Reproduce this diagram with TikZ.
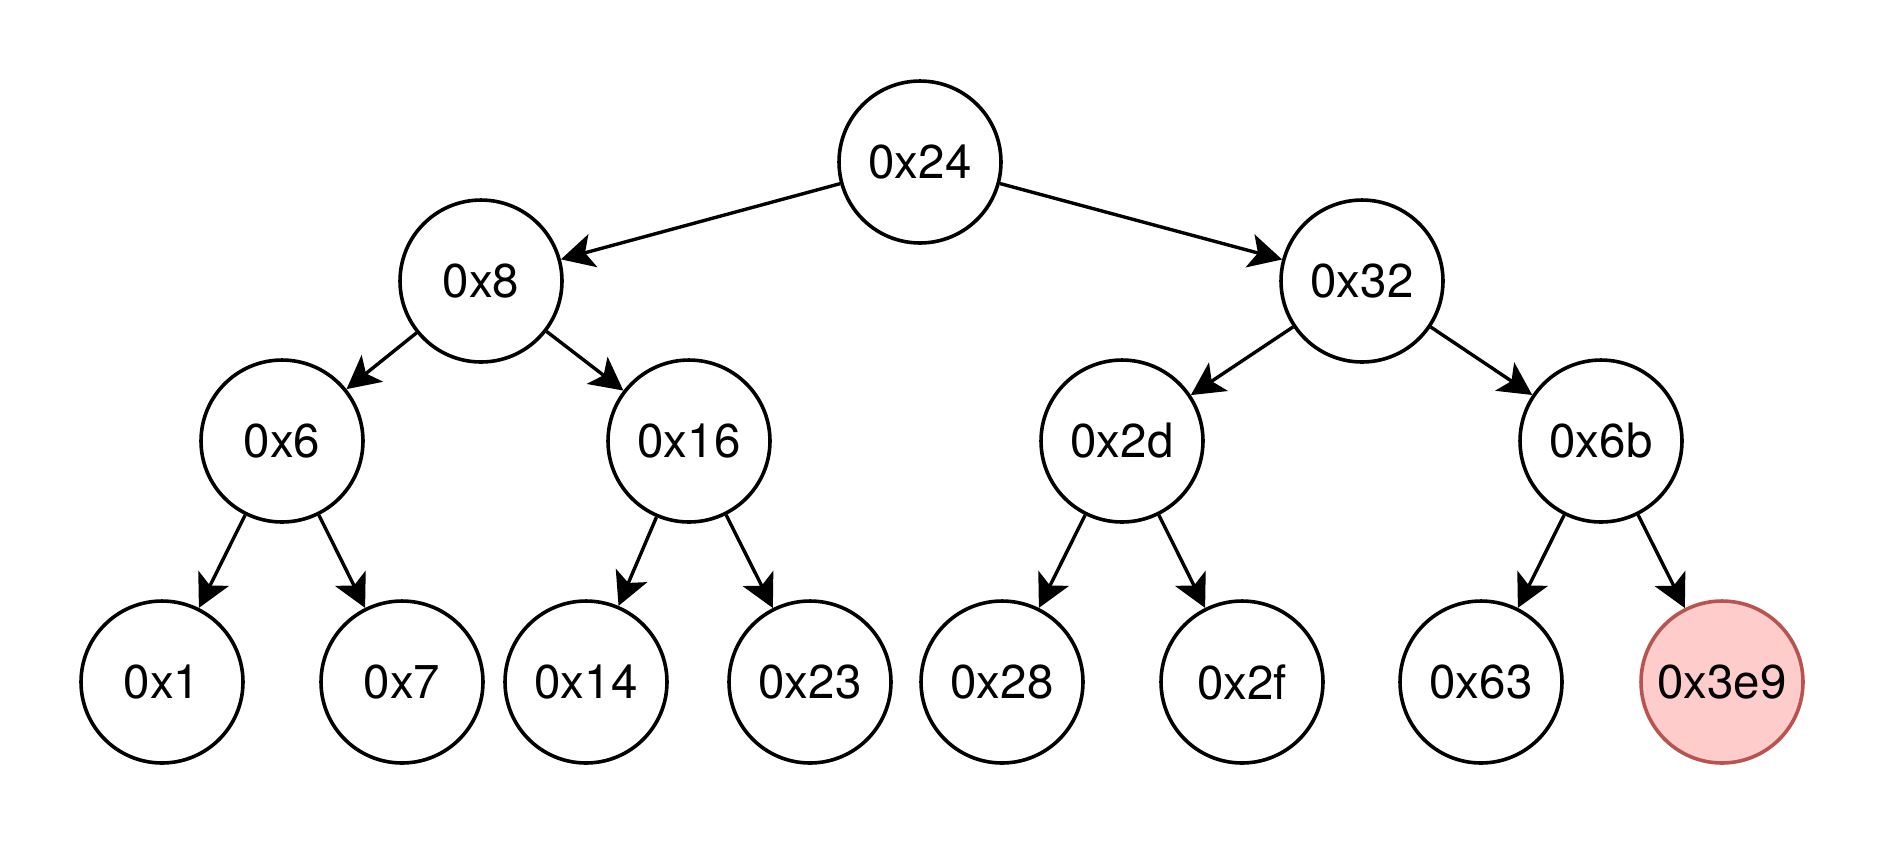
\documentclass[tikz,border=0pt]{standalone}
\usepackage{fontspec}
\setmainfont{TeX Gyre Heros}
\usetikzlibrary{arrows.meta}

\definecolor{hitfill}{HTML}{FFCCCC}
\definecolor{hitdraw}{HTML}{B85450}

\tikzset{
	key/.style={circle, draw=black, line width=0.072cm, minimum size=3.24cm,
		inner sep=0pt, font=\fontsize{27}{32}\selectfont},
	hit/.style={key, draw=hitdraw, fill=hitfill},
	edge/.style={line width=0.068cm, -{Stealth[length=0.66cm, width=0.68cm, inset=0.16cm]}},
}

\begin{document}
\begin{tikzpicture}[x=0.02cm, y=-0.02cm]
	\useasboundingbox (0,0) rectangle (1880,840);
	
	\node [key] (n24) at (920,162) {0x24};
	\node [key] (n8) at (481,281) {0x8};
	\node [key] (n32) at (1362,281) {0x32};
	\node [key] (n6) at (282,441) {0x6};
	\node [key] (n16) at (689,441) {0x16};
	\node [key] (n2d) at (1122,441) {0x2d};
	\node [key] (n6b) at (1601,441) {0x6b};
	\node [key] (n1) at (162,682) {0x1};
	\node [key] (n7) at (402,682) {0x7};
	\node [key] (n14) at (586,682) {0x14};
	\node [key] (n23) at (810,682) {0x23};
	\node [key] (n28) at (1002,682) {0x28};
	\node [key] (n2f) at (1242,682) {0x2f};
	\node [key] (n63) at (1481,682) {0x63};
	\node [hit] (n3e9) at (1722,682) {0x3e9};
	
	\path [edge] (n24) edge (n8) edge (n32);
	\path [edge] (n8) edge (n6) edge (n16);
	\path [edge] (n32) edge (n2d) edge (n6b);
	\path [edge] (n6) edge (n1) edge (n7);
	\path [edge] (n16) edge (n14) edge (n23);
	\path [edge] (n2d) edge (n28) edge (n2f);
	\path [edge] (n6b) edge (n63) edge (n3e9);
	
\end{tikzpicture}
\end{document}
